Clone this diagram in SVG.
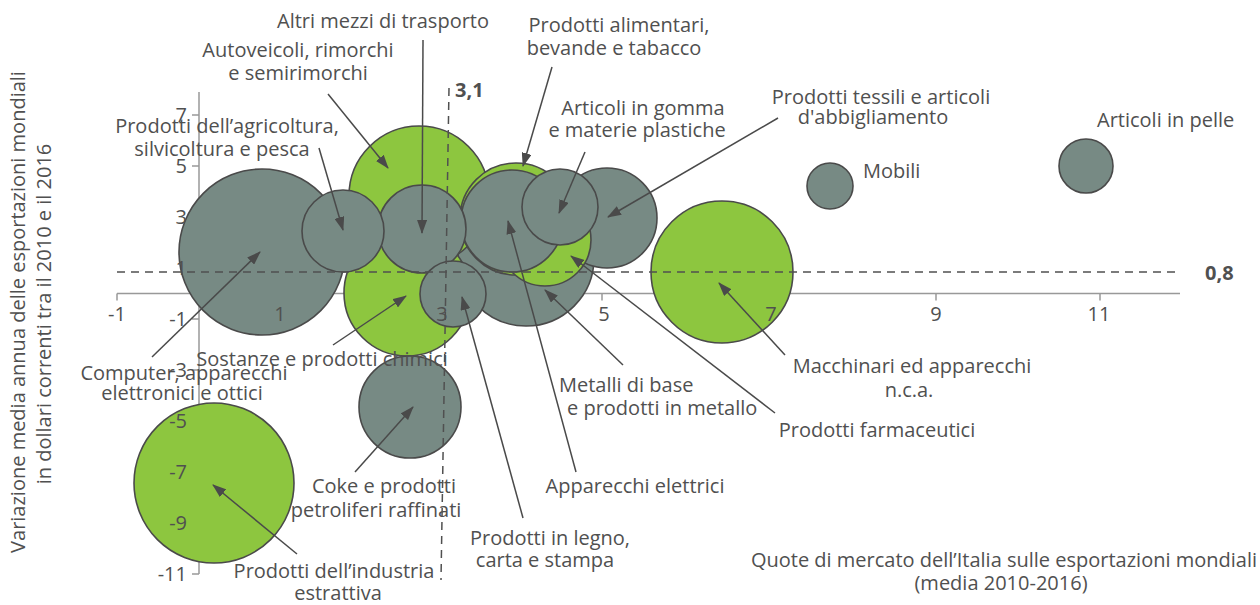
<svg xmlns="http://www.w3.org/2000/svg" width="1260" height="605" viewBox="0 0 1260 605">
<style>
text{font-family:"Open Sans","Liberation Sans",sans-serif;font-size:20px;fill:#505050}
.b{font-weight:bold}
.m{text-anchor:middle}
.e{text-anchor:end}
.g{fill:#778a84;stroke:#4a4a4a;stroke-width:1.6}
.v{fill:#8dc63f;stroke:#4a4a4a;stroke-width:1.6}
.ax{stroke:#999;stroke-width:1.5;fill:none}
.d{stroke:#505050;stroke-width:1.5;stroke-dasharray:8 6;fill:none}
.c{stroke:#4a4a4a;stroke-width:1.5;fill:none;marker-end:url(#ah)}
</style>
<defs>
<marker id="ah" viewBox="0 0 14 10" refX="13" refY="5" markerWidth="14" markerHeight="10" markerUnits="userSpaceOnUse" orient="auto"><path d="M0,0 L14,5 L0,10 z" fill="#4a4a4a"/></marker>
</defs>
<rect width="1260" height="605" fill="#fff"/>
<g id="axes">
<path class="ax" d="M117,293.5 H1180 M117,293.5 v7 M280,293.5 v7 M442,293.5 v7 M602,293.5 v7 M769,293.5 v7 M936,293.5 v7 M1100,293.5 v7"/>
<path class="ax" d="M199,92 V574 M192,115 h7 M192,166 h7 M192,217 h7 M192,268 h7 M192,319 h7 M192,370 h7 M192,421 h7 M192,472 h7 M192,523 h7 M192,574 h7"/>
</g>
<g id="bubbles">
<circle id="computer" class="g" cx="262" cy="252" r="83"/>
<circle id="estrattiva" class="v" cx="214" cy="483" r="80"/>
<circle id="macchinari" class="v" cx="722" cy="272" r="71"/>
<circle id="metalli" class="g" cx="526" cy="258" r="68"/>
<circle id="autoveicoli" class="v" cx="419" cy="196" r="70"/>
<circle id="sostanze" class="v" cx="407" cy="293" r="63"/>
<circle id="alimentari" class="v" cx="516" cy="219" r="56"/>
<circle id="coke" class="g" cx="410" cy="407" r="51"/>
<circle id="tessili" class="g" cx="607" cy="218" r="50"/>
<circle id="farmaceutici" class="v" cx="545" cy="240" r="46"/>
<circle id="apparecchi" class="g" cx="512" cy="221" r="51"/>
<circle id="altrimezzi" class="g" cx="422" cy="229" r="44"/>
<circle id="agricoltura" class="g" cx="343" cy="231" r="41"/>
<circle id="gomma" class="g" cx="560" cy="207" r="38"/>
<circle id="legno" class="g" cx="453" cy="294" r="33"/>
<circle id="pelle" class="g" cx="1086" cy="166" r="27"/>
<circle id="mobili" class="g" cx="830" cy="186" r="23"/>
</g>
<g id="ticklabels">
<text class="m" x="117" y="321">-1</text>
<text class="m" x="280" y="321">1</text>
<text class="m" x="442" y="321">3</text>
<text class="m" x="604" y="321">5</text>
<text class="m" x="771" y="321">7</text>
<text class="m" x="936" y="321">9</text>
<text class="m" x="1099" y="321">11</text>
<text class="e" x="187" y="122">7</text>
<text class="e" x="187" y="173">5</text>
<text class="e" x="187" y="224">3</text>
<text class="e" x="187" y="275">1</text>
<text class="e" x="187" y="326">-1</text>
<text class="e" x="187" y="377">-3</text>
<text class="e" x="187" y="428">-5</text>
<text class="e" x="187" y="479">-7</text>
<text class="e" x="187" y="530">-9</text>
<text class="e" x="187" y="581">-11</text>
</g>
<g id="references">
<path class="d" d="M117,272 H1180"/>
<path class="d" d="M449,88 L441,580"/>
<text class="b" x="1205" y="280">0,8</text>
<text class="b" x="455" y="97">3,1</text>
</g>
<g id="connectors">
<line class="c" x1="423" y1="40" x2="422" y2="233"/>
<line class="c" x1="328" y1="94" x2="388" y2="168"/>
<line class="c" x1="319" y1="148" x2="343" y2="230"/>
<line class="c" x1="152" y1="357" x2="260" y2="252"/>
<line class="c" x1="333" y1="345" x2="406" y2="296"/>
<line class="c" x1="355" y1="472" x2="413" y2="407"/>
<line class="c" x1="297" y1="554" x2="213" y2="485"/>
<line class="c" x1="523" y1="518" x2="462" y2="297"/>
<line class="c" x1="576" y1="472" x2="508" y2="221"/>
<line class="c" x1="623" y1="365" x2="545" y2="290"/>
<line class="c" x1="775" y1="413" x2="571" y2="256"/>
<line class="c" x1="785" y1="355" x2="719" y2="283"/>
<line class="c" x1="585" y1="152" x2="559" y2="213"/>
<line class="c" x1="778" y1="118" x2="608" y2="217"/>
<line class="c" x1="552" y1="67" x2="523" y2="166"/>
</g>
<g id="labels">
<text class="m" x="383" y="28">Altri mezzi di trasporto</text>
<text class="m" x="298" y="57">Autoveicoli, rimorchi</text>
<text class="m" x="298" y="80">e semirimorchi</text>
<text class="m" x="227" y="133">Prodotti dell’agricoltura,</text>
<text class="m" x="222" y="156">silvicoltura e pesca</text>
<text class="m" x="619" y="32">Prodotti alimentari,</text>
<text class="m" x="614" y="55">bevande e tabacco</text>
<text class="m" x="643" y="115">Articoli in gomma</text>
<text class="m" x="637" y="137">e materie plastiche</text>
<text class="m" x="881" y="104">Prodotti tessili e articoli</text>
<text class="m" x="873" y="124">d'abbigliamento</text>
<text x="1097" y="127">Articoli in pelle</text>
<text x="863" y="178">Mobili</text>
<text class="m" x="184" y="380">Computer, apparecchi</text>
<text class="m" x="182" y="400">elettronici e ottici</text>
<text class="m" x="322" y="366">Sostanze e prodotti chimici</text>
<text class="m" x="384" y="493">Coke e prodotti</text>
<text class="m" x="376" y="517">petroliferi raffinati</text>
<text class="m" x="334" y="578">Prodotti dell’industria</text>
<text class="m" x="338" y="600">estrattiva</text>
<text class="m" x="550" y="545">Prodotti in legno,</text>
<text class="m" x="545" y="567">carta e stampa</text>
<text class="m" x="635" y="493">Apparecchi elettrici</text>
<text x="559" y="392">Metalli di base</text>
<text x="567" y="415">e prodotti in metallo</text>
<text class="m" x="912" y="373">Macchinari ed apparecchi</text>
<text class="m" x="909" y="397">n.c.a.</text>
<text class="m" x="877" y="437">Prodotti farmaceutici</text>
<text class="e" x="1257" y="567">Quote di mercato dell’Italia sulle esportazioni mondiali</text>
<text class="m" x="1001" y="590">(media 2010-2016)</text>
<text class="m" transform="translate(25,312) rotate(-90)">Variazione media annua delle esportazioni mondiali</text>
<text class="m" transform="translate(51,314) rotate(-90)">in dollari correnti tra il 2010 e il 2016</text>
</g>
</svg>
